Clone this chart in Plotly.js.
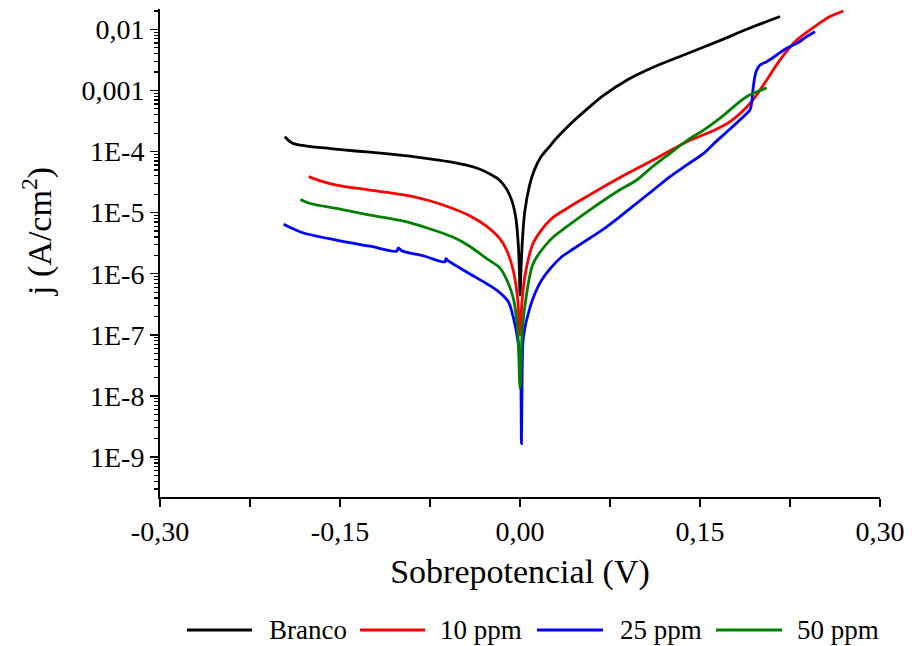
<!DOCTYPE html>
<html>
<head>
<meta charset="utf-8">
<script src="https://cdn.plot.ly/plotly-3.0.1.min.js"></script>
<style>
  html, body { margin: 0; padding: 0; background: #fff; }
  #chart { width: 912px; height: 646px; }
</style>
</head>
<body>
<div id="chart"></div>
<script>
// ---- Data (overpotential in V, current density in A/cm^2) ----
const seriesNames = ["Branco", "10 ppm", "25 ppm", "50 ppm"];
const seriesColors = ["#000000", "#ff0000", "#0000ff", "#008000"];

const brancoV = [-0.196, -0.190, -0.178, -0.158, -0.137, -0.114, -0.086, -0.058, -0.036, -0.025, -0.017, -0.011, -0.0065, -0.0035, -0.0015, -0.0005, 0.0,
  0.0008, 0.002, 0.004, 0.008, 0.012, 0.017, 0.024, 0.030, 0.042, 0.058, 0.069, 0.090, 0.111, 0.139, 0.167, 0.190, 0.2167];
const brancoJ = [1.74e-4, 1.38e-4, 1.23e-4, 1.12e-4, 1.02e-4, 9.33e-5, 8.13e-5, 6.76e-5, 5.37e-5, 4.27e-5, 3.39e-5, 2.40e-5, 1.51e-5, 8.32e-6, 3.16e-6, 1.12e-6, 4.47e-7,
  1.12e-6, 3.55e-6, 1.05e-5, 2.82e-5, 5.01e-5, 7.94e-5, 1.17e-4, 1.62e-4, 2.82e-4, 5.37e-4, 8.13e-4, 1.51e-3, 2.40e-3, 3.98e-3, 6.61e-3, 1.02e-2, 1.62e-2];

const ppm10V = [-0.176, -0.165, -0.153, -0.125, -0.097, -0.076, -0.056, -0.042, -0.028, -0.017, -0.011, -0.0056, -0.002, 0.0,
  0.0015, 0.004, 0.011, 0.025, 0.039, 0.058, 0.083, 0.111, 0.139, 0.161, 0.175, 0.189, 0.197, 0.2056, 0.2167, 0.2306, 0.2444, 0.2583, 0.2694];
const ppm10J = [3.89e-5, 3.24e-5, 2.82e-5, 2.34e-5, 1.95e-5, 1.58e-5, 1.17e-5, 8.91e-6, 6.03e-6, 3.80e-6, 2.40e-6, 1.12e-6, 3.98e-7, 1.0e-7,
  3.16e-7, 8.91e-7, 3.16e-6, 7.59e-6, 1.17e-5, 1.95e-5, 3.72e-5, 7.24e-5, 1.45e-4, 2.19e-4, 3.09e-4, 5.37e-4, 8.32e-4, 1.48e-3, 3.16e-3, 6.68e-3, 1.07e-2, 1.62e-2, 2.0e-2];

const ppm25V = [-0.197, -0.181, -0.153, -0.125, -0.1028, -0.1014, -0.0986, -0.080, -0.0625, -0.0617, -0.0597, -0.042, -0.028, -0.0194, -0.0097, -0.0056, -0.0014, 0.0005, 0.0012,
  0.0018, 0.0028, 0.0083, 0.0167, 0.025, 0.035, 0.044, 0.058, 0.069, 0.083, 0.097, 0.111, 0.125, 0.139, 0.153, 0.161, 0.175, 0.189, 0.1917, 0.193, 0.1944, 0.1967, 0.200, 0.2056, 0.2139, 0.2222, 0.2306, 0.2389, 0.2458];
const ppm25J = [6.46e-6, 4.68e-6, 3.55e-6, 2.82e-6, 2.34e-6, 2.65e-6, 2.37e-6, 1.95e-6, 1.56e-6, 1.77e-6, 1.62e-6, 1.0e-6, 6.92e-7, 5.37e-7, 3.47e-7, 1.95e-7, 7.24e-8, 2.51e-8, 1.66e-9,
  2.51e-8, 9.12e-8, 2.82e-7, 7.08e-7, 1.20e-6, 1.91e-6, 2.51e-6, 3.80e-6, 5.25e-6, 8.51e-6, 1.41e-5, 2.34e-5, 3.89e-5, 6.03e-5, 9.33e-5, 1.32e-4, 2.34e-4, 4.21e-4, 4.79e-4, 6.17e-4, 1.15e-3, 2.02e-3, 2.60e-3, 2.95e-3, 3.80e-3, 4.90e-3, 5.89e-3, 7.59e-3, 9.12e-3];

const ppm50V = [-0.183, -0.175, -0.153, -0.125, -0.097, -0.076, -0.056, -0.042, -0.028, -0.017, -0.011, -0.0056, -0.002, 0.0,
  0.002, 0.0056, 0.011, 0.025, 0.039, 0.058, 0.069, 0.083, 0.097, 0.111, 0.125, 0.139, 0.153, 0.167, 0.189, 0.2056];
const ppm50J = [1.64e-5, 1.41e-5, 1.17e-5, 9.12e-6, 7.24e-6, 5.50e-6, 3.98e-6, 2.82e-6, 1.78e-6, 1.26e-6, 7.94e-7, 3.98e-7, 1.26e-7, 1.35e-8,
  1.26e-7, 4.79e-7, 1.48e-6, 3.55e-6, 5.89e-6, 1.10e-5, 1.55e-5, 2.34e-5, 3.39e-5, 5.75e-5, 9.33e-5, 1.51e-4, 2.24e-4, 3.55e-4, 7.94e-4, 1.10e-3];

const xTickVals = [-0.30, -0.15, 0.00, 0.15, 0.30];
const xTickText = ["-0,30", "-0,15", "0,00", "0,15", "0,30"];
const yTickVals = [1e-9, 1e-8, 1e-7, 1e-6, 1e-5, 1e-4, 1e-3, 1e-2];
const yTickText = ["1E-9", "1E-8", "1E-7", "1E-6", "1E-5", "1E-4", "0,001", "0,01"];
const xTitle = "Sobrepotencial (V)";
const yTitle = "j (A/cm<sup>2</sup>)";

// ---- Build traces ----
const xs = [brancoV, ppm10V, ppm25V, ppm50V];
const ys = [brancoJ, ppm10J, ppm25J, ppm50J];
const traces = seriesNames.map((name, i) => ({
  type: "scatter", mode: "lines", name: name,
  x: xs[i], y: ys[i],
  line: { color: seriesColors[i], width: 2.8, shape: "spline", smoothing: 0.8 },
  showlegend: false, hoverinfo: "skip"
}));

const FONT = "Liberation Serif, Times New Roman, serif";

// ---- Manual legend (long line samples as in the reference) ----
const legY = -0.2725;
const legLines = [[0.0375, 0.1278], [0.2778, 0.3681], [0.5236, 0.6153], [0.7722, 0.8639]];
const legText = [0.148, 0.3861, 0.6361, 0.8819];
const shapes = seriesNames.map((n, i) => ({
  type: "line", xref: "paper", yref: "paper",
  x0: legLines[i][0], x1: legLines[i][1], y0: legY, y1: legY,
  line: { color: seriesColors[i], width: 2.8 }
}));
const annotations = seriesNames.map((n, i) => ({
  xref: "paper", yref: "paper", x: legText[i], y: legY,
  xanchor: "left", yanchor: "middle", showarrow: false,
  text: n, font: { family: FONT, size: 27, color: "#000" }
}));
// y-axis title placed as in the reference (slightly above the axis centre)
annotations.push({
  xref: "paper", yref: "paper", x: -0.171, y: 0.545,
  xanchor: "center", yanchor: "middle", showarrow: false, textangle: -90,
  text: yTitle, font: { family: FONT, size: 34, color: "#000" }
});

const layout = {
  width: 912, height: 646,
  margin: { l: 160, r: 32, t: 9, b: 149 },
  paper_bgcolor: "#fff", plot_bgcolor: "#fff",
  showlegend: false,
  font: { family: FONT, color: "#000" },
  xaxis: {
    range: [-0.3, 0.3],
    tickmode: "array", tickvals: xTickVals, ticktext: xTickText,
    ticks: "outside", ticklen: 8, tickwidth: 1.5, tickcolor: "#000",
    minor: { ticks: "outside", ticklen: 8, tickwidth: 1.5, tickcolor: "#000", dtick: 0.075, tick0: -0.3, showgrid: false },
    showline: true, linecolor: "#000", linewidth: 2,
    showgrid: false, zeroline: false,
    tickfont: { family: FONT, size: 28, color: "#000" },
    title: { text: xTitle, font: { family: FONT, size: 34, color: "#000" }, standoff: 14 }
  },
  yaxis: {
    type: "log",
    range: [-9.655, -1.667],
    tickmode: "array", tickvals: yTickVals, ticktext: yTickText,
    ticks: "outside", ticklen: 8, tickwidth: 1.5, tickcolor: "#000",
    minor: { ticks: "outside", ticklen: 4, tickwidth: 1.2, tickcolor: "#000", dtick: "D1", showgrid: false },
    showline: true, linecolor: "#000", linewidth: 2,
    showgrid: false, zeroline: false,
    tickfont: { family: FONT, size: 28, color: "#000" }
  },
  shapes: shapes,
  annotations: annotations
};

Plotly.newPlot("chart", traces, layout, { displayModeBar: false, staticPlot: true });
</script>
</body>
</html>
